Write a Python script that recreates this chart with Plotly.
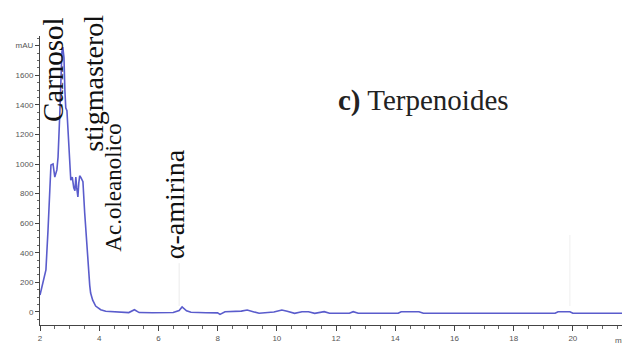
import plotly.graph_objects as go

# Retention time (min) and absorbance (mAU)
time_min = [2.0, 2.1, 2.2, 2.27, 2.34, 2.37, 2.44, 2.5, 2.57, 2.61, 2.67, 2.71, 2.74, 2.77,
            2.81, 2.84, 2.87, 2.91, 2.94, 2.97, 3.01, 3.04, 3.09, 3.14, 3.18, 3.21, 3.24,
            3.28, 3.31, 3.34, 3.38, 3.45, 3.51, 3.58, 3.61, 3.68, 3.71, 3.78, 3.88, 4.05,
            4.22, 4.6, 5.0, 5.19, 5.35, 5.8, 6.5, 6.7, 6.8, 6.95, 7.1, 7.6, 8.0, 8.08, 8.25,
            8.8, 9.0, 9.2, 9.4, 9.9, 10.17, 10.35, 10.6, 10.85, 11.07, 11.28, 11.6, 11.78,
            12.45, 12.58, 12.75, 14.1, 14.2, 14.8, 14.95, 19.4, 19.5, 19.9, 20.0, 21.93]
absorbance = [115, 200, 284, 550, 800, 993, 1000, 912, 960, 1047, 1345, 1682, 1757, 1790,
              1720, 1500, 1380, 1360, 1250, 1100, 960, 890, 912, 840, 820, 912, 840,
              777, 870, 920, 910, 880, 669, 450, 331, 180, 128, 80, 40, 15,
              5, 0, -4, 15, -4, -5, -4, 10, 34, 8, -2, -5, -6, -16, 2,
              6, 13, 2, -9, 0, 13, 5, -9, 2, 2, -9, 2, -9,
              -9, 2, -9, -9, 2, 2, -9, -9, 2, 2, -9, -9]

y_tick_vals = [0, 200, 400, 600, 800, 1000, 1200, 1400, 1600, 1800]
y_tick_text = ["0", "200", "400", "600", "800", "1000", "1200", "1400", "1600", "mAU"]
x_tick_vals = [2, 4, 6, 8, 10, 12, 14, 16, 18, 20]

peak_labels = ["Carnosol", "stigmasterol", "Ac.oleanolico", "α-amirina"]
label_x = [2.44, 3.78, 4.49, 6.57]
label_y = [1635, 1547, 838, 730]
label_size = [29, 28, 23, 28]

fig = go.Figure()
fig.add_trace(go.Scatter(x=time_min, y=absorbance, mode="lines",
                         line=dict(color="#5a5ccc", width=1.6), showlegend=False))

for txt, lx, ly, sz in zip(peak_labels, label_x, label_y, label_size):
    fig.add_annotation(x=lx, y=ly, text=txt, textangle=-90, showarrow=False,
                       font=dict(family="Liberation Serif", size=sz, color="#111"),
                       xanchor="center", yanchor="middle")

fig.add_annotation(x=14.97, y=1432, text="<b>c)</b> Terpenoides", showarrow=False,
                   font=dict(family="Liberation Serif", size=29, color="#222"),
                   xanchor="center", yanchor="middle")
fig.add_annotation(xref="paper", yref="paper", x=0.972, y=-0.055, text="min",
                   showarrow=False, xanchor="left", yanchor="middle",
                   font=dict(family="Liberation Sans", size=8, color="#555"))

# faint peak marker lines
fig.add_shape(type="line", x0=6.7, x1=6.7, y0=40, y1=330,
              line=dict(color="#ebebeb", width=1))
fig.add_shape(type="line", x0=19.9, x1=19.9, y0=40, y1=520,
              line=dict(color="#efefef", width=1))

fig.update_layout(
    width=630, height=348,
    margin=dict(l=29, r=8, t=28, b=31),
    paper_bgcolor="white", plot_bgcolor="white",
    font=dict(family="Liberation Sans", size=8, color="#555"),
    xaxis=dict(range=[2, 21.93], tickvals=x_tick_vals, showgrid=False, zeroline=False,
               showline=True, linecolor="#444", linewidth=1, ticks="outside",
               ticklen=5, tickcolor="#444",
               minor=dict(dtick=0.5, ticks="outside", ticklen=3, tickcolor="#666"),
               tickfont=dict(size=8, color="#555")),
    yaxis=dict(range=[-88, 1865], tickvals=y_tick_vals, ticktext=y_tick_text,
               showgrid=False, zeroline=False, showline=True, linecolor="#444",
               linewidth=1, ticks="outside", ticklen=4, tickcolor="#444",
               minor=dict(dtick=50, ticks="outside", ticklen=2, tickcolor="#666"),
               tickfont=dict(size=8, color="#555")),
)

fig.write_html("out.html")
